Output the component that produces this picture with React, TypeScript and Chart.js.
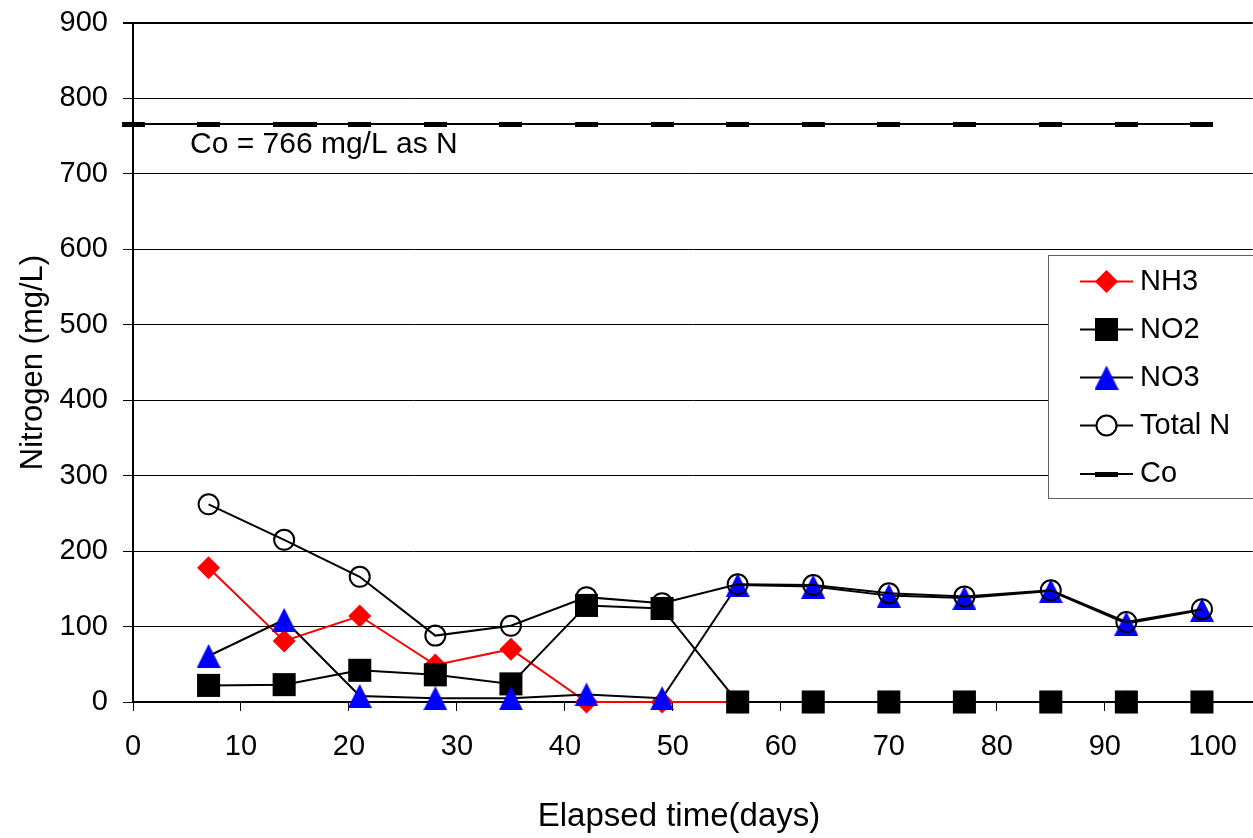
import React, { useEffect, useRef } from 'react';
import { Chart, registerables } from 'chart.js';

Chart.register(...registerables);

const FONT = '"Liberation Sans", Arial, Helvetica, sans-serif';

// ---- data ----
const days = [7, 14, 21, 28, 35, 42, 49, 56, 63, 70, 77, 85, 92, 99];
const nh3 = [178, 81, 114, 49, 70, 0, 0, 0, 0, 0, 0, 0, 0, 0];
const no2 = [22, 23, 42, 36, 24, 128, 124, 0, 0, 0, 0, 0, 0, 0];
const no3 = [61, 109, 8, 5, 5, 10, 5, 155, 153, 141, 138, 147, 104, 122];
const totalN = [262, 215, 166, 88, 101, 139, 131, 156, 155, 144, 140, 148, 106, 123];
const coDays = [0, 7, 14, 16, 21, 28, 35, 42, 49, 56, 63, 70, 77, 85, 92, 99];
const coValue = 766;
const seriesNames = ['NH3', 'NO2', 'NO3', 'Total N', 'Co'];
const xTitle = 'Elapsed time(days)';
const yTitle = 'Nitrogen (mg/L)';
const annotationText = 'Co = 766 mg/L as N';
const xMin = 0;
const xMaxTick = 100;
const xStep = 10;
const yMin = 0;
const yMax = 900;
const yStep = 100;

const CANVAS_W = 1269;
const CANVAS_H = 838;

const toPts = (xs: number[], ys: number[]) => xs.map((x, i) => ({ x, y: ys[i] }));

function makeTriangle(): HTMLCanvasElement {
  const c = document.createElement('canvas');
  c.width = 24;
  c.height = 24;
  const g = c.getContext('2d')!;
  g.fillStyle = '#0000FF';
  g.beginPath();
  g.moveTo(12, 0);
  g.lineTo(24, 24);
  g.lineTo(0, 24);
  g.closePath();
  g.fill();
  return c;
}

function makeDash(): HTMLCanvasElement {
  const c = document.createElement('canvas');
  c.width = 23;
  c.height = 5;
  const g = c.getContext('2d')!;
  g.fillStyle = '#000000';
  g.fillRect(0, 0, 23, 5);
  return c;
}

function zeroPad(s: any) {
  s.paddingLeft = 0;
  s.paddingRight = 0;
  s.paddingTop = 0;
  s.paddingBottom = 0;
}

export default function App() {
  const ref = useRef<HTMLCanvasElement | null>(null);

  useEffect(() => {
    document.body.style.margin = '0';
    document.body.style.overflow = 'hidden';
    const canvas = ref.current;
    if (!canvas) return;
    const tri = makeTriangle();
    const dash = makeDash();

    const overlay = {
      id: 'overlay',
      afterDraw(chart: any) {
        const ctx = chart.ctx as CanvasRenderingContext2D;
        const ys = chart.scales.y;
        ctx.save();
        // annotation
        ctx.fillStyle = '#000';
        ctx.font = `30px ${FONT}`;
        ctx.textAlign = 'left';
        ctx.textBaseline = 'alphabetic';
        ctx.fillText(annotationText, 190, ys.getPixelForValue(coValue) + 29);
        // x title
        ctx.font = `33px ${FONT}`;
        ctx.textAlign = 'center';
        ctx.fillText(xTitle, 679, 826);
        // legend box
        const bx = 1048.5, by = 255.5, bh = 243;
        ctx.fillStyle = '#ffffff';
        ctx.fillRect(bx, by, 300, bh);
        ctx.strokeStyle = '#606060';
        ctx.lineWidth = 1;
        ctx.strokeRect(bx, by, 300, bh);
        const rowY = [281.5, 329.5, 377.5, 425.5, 474];
        const lineCol = ['#ff0000', '#000000', '#000000', '#000000', '#000000'];
        for (let i = 0; i < seriesNames.length; i++) {
          const y = rowY[i];
          const mx = 1106.5;
          ctx.strokeStyle = lineCol[i];
          ctx.lineWidth = 2;
          ctx.beginPath();
          ctx.moveTo(1080, y);
          ctx.lineTo(1133, y);
          ctx.stroke();
          if (i === 0) {
            ctx.fillStyle = '#ff0000';
            ctx.beginPath();
            ctx.moveTo(mx - 11.5, y);
            ctx.lineTo(mx, y - 11.5);
            ctx.lineTo(mx + 11.5, y);
            ctx.lineTo(mx, y + 11.5);
            ctx.closePath();
            ctx.fill();
          } else if (i === 1) {
            ctx.fillStyle = '#000';
            ctx.fillRect(mx - 11.5, y - 11.5, 23, 23);
          } else if (i === 2) {
            ctx.drawImage(tri, mx - 12, y - 12);
          } else if (i === 3) {
            ctx.fillStyle = '#fff';
            ctx.strokeStyle = '#000';
            ctx.lineWidth = 2;
            ctx.beginPath();
            ctx.arc(mx, y, 10, 0, Math.PI * 2);
            ctx.fill();
            ctx.stroke();
          } else {
            ctx.drawImage(dash, mx - 11.5, y - 2.5);
          }
          ctx.fillStyle = '#000';
          ctx.font = `29px ${FONT}`;
          ctx.textAlign = 'left';
          ctx.textBaseline = 'middle';
          ctx.fillText(seriesNames[i], 1140, y);
        }
        ctx.restore();
      },
    };

    const base = { tension: 0, clip: false as any, borderWidth: 2 };

    const chart = new Chart(canvas, {
      type: 'line',
      data: {
        datasets: [
          {
            ...base,
            label: seriesNames[0],
            data: toPts(days, nh3),
            borderColor: '#ff0000',
            backgroundColor: '#ff0000',
            pointStyle: 'rectRot',
            pointRadius: 11.5,
            pointBorderWidth: 0,
            pointBackgroundColor: '#ff0000',
            order: 5,
          },
          {
            ...base,
            label: seriesNames[1],
            data: toPts(days, no2),
            borderColor: '#000000',
            backgroundColor: '#000000',
            pointStyle: 'rect',
            pointRadius: 16.3,
            pointBorderWidth: 0,
            pointBackgroundColor: '#000000',
            order: 4,
          },
          {
            ...base,
            label: seriesNames[2],
            data: toPts(days, no3),
            borderColor: '#000000',
            backgroundColor: '#0000ff',
            pointStyle: tri as any,
            pointRadius: 12,
            order: 3,
          },
          {
            ...base,
            label: seriesNames[3],
            data: toPts(days, totalN),
            borderColor: '#000000',
            backgroundColor: 'rgba(0,0,0,0)',
            pointStyle: 'circle',
            pointRadius: 10,
            pointBorderWidth: 2,
            pointBorderColor: '#000000',
            pointBackgroundColor: 'rgba(0,0,0,0)',
            order: 2,
          },
          {
            ...base,
            label: seriesNames[4],
            data: coDays.map((d) => ({ x: d, y: coValue })),
            borderColor: '#000000',
            backgroundColor: '#000000',
            pointStyle: dash as any,
            pointRadius: 12,
            order: 1,
          },
        ],
      },
      options: {
        responsive: false,
        animation: false,
        devicePixelRatio: 1,
        events: [],
        layout: { padding: { top: 23, right: 0, bottom: 0, left: 0 } },
        plugins: {
          legend: { display: false },
          tooltip: { enabled: false },
        },
        scales: {
          x: {
            type: 'linear',
            min: xMin,
            max: 103.7,
            afterFit: (s: any) => {
              s.height = 136;
              zeroPad(s);
            },
            ticks: {
              stepSize: xStep,
              includeBounds: false,
              maxRotation: 0,
              color: '#000',
              padding: 19,
              font: { family: FONT, size: 29 },
              callback: (v: any) => (Number(v) <= xMaxTick ? String(v) : ''),
            },
            grid: {
              drawOnChartArea: false,
              drawTicks: true,
              tickLength: 9,
              color: '#000',
              lineWidth: 1,
            },
            border: { display: true, color: '#000', width: 2 },
          },
          y: {
            type: 'linear',
            min: yMin,
            max: yMax,
            afterFit: (s: any) => {
              s.width = 133;
              zeroPad(s);
            },
            ticks: {
              stepSize: yStep,
              color: '#000',
              padding: 15,
              font: { family: FONT, size: 29 },
            },
            grid: {
              drawOnChartArea: true,
              drawTicks: true,
              tickLength: 10,
              color: '#000',
              lineWidth: (c: any) => (c.tick && c.tick.value === yMax ? 2 : 1),
            },
            border: { display: true, color: '#000', width: 2 },
            title: {
              display: true,
              text: yTitle,
              color: '#000',
              font: { family: FONT, size: 31 },
              padding: { top: 15, bottom: 0 },
            },
          },
        },
      },
      plugins: [overlay],
    });
    return () => chart.destroy();
  }, []);

  return (
    <div style={{ width: 1253, height: 838, position: 'relative', overflow: 'hidden', background: '#fff' }}>
      <canvas ref={ref} width={CANVAS_W} height={CANVAS_H} style={{ display: 'block' }} />
    </div>
  );
}
